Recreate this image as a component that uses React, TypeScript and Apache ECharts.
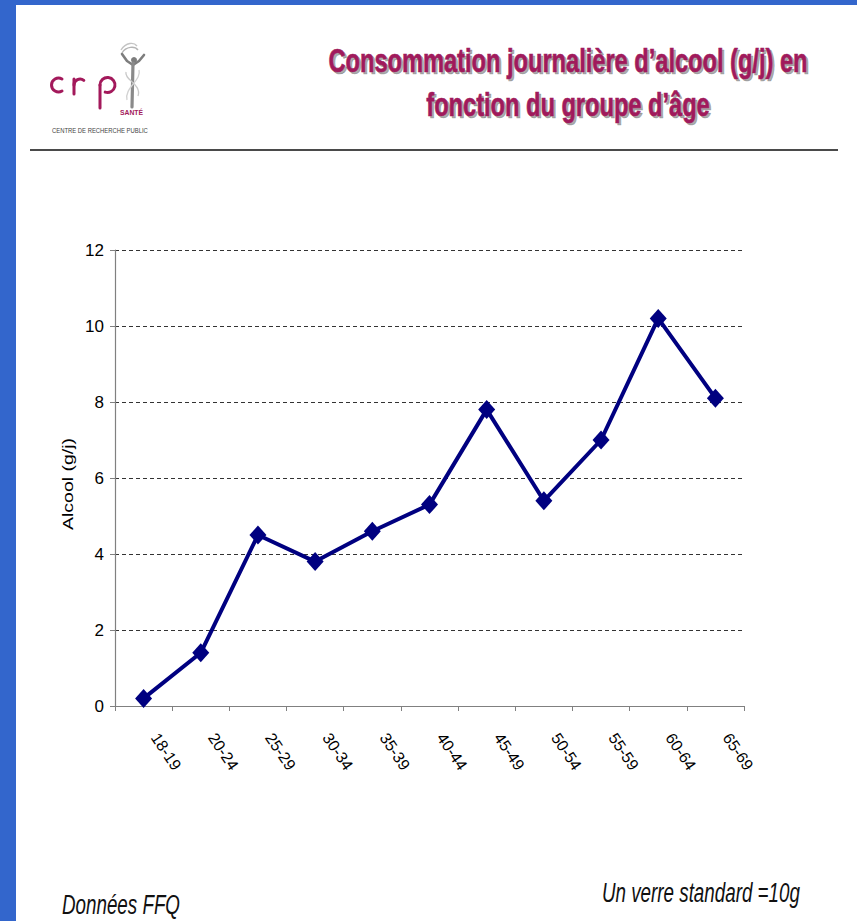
import React, { useEffect, useRef } from 'react';
import * as echarts from 'echarts';

const categories = ['18-19', '20-24', '25-29', '30-34', '35-39', '40-44', '45-49', '50-54', '55-59', '60-64', '65-69'];
const alcoholValues = [0.2, 1.4, 4.5, 3.8, 4.6, 5.3, 7.8, 5.4, 7.0, 10.2, 8.1];
const yMin = 0;
const yMax = 12;
const yStep = 2;
const titleLines = ['Consommation journalière d’alcool (g/j) en', 'fonction du groupe d’âge'];
const yAxisName = 'Alcool (g/j)';
const footerLeft = 'Données FFQ';
const footerRight = 'Un verre standard =10g';
const logoWord = 'SANTÉ';
const logoSub = 'CENTRE DE RECHERCHE PUBLIC';

const FF = '"Liberation Sans", Arial, Helvetica, sans-serif';

function textWidth(text: string, font: string): number {
  const c = document.createElement('canvas').getContext('2d');
  if (!c) return text.length * 10;
  c.font = font;
  return c.measureText(text).width;
}

function fitText(
  text: string,
  x: number,
  y: number,
  size: number,
  width: number,
  opts: { weight?: string; italic?: boolean; fill: string; align?: string; z?: number; rotation?: number; scaleY?: number }
) {
  const font = `${opts.italic ? 'italic ' : ''}${opts.weight || 'normal'} ${size}px ${FF}`;
  const sx = width / textWidth(text, font);
  const align = opts.align || 'left';
  return {
    type: 'text',
    x,
    y,
    rotation: opts.rotation || 0,
    scaleX: sx,
    scaleY: opts.scaleY || 1,
    z: opts.z ?? 10,
    style: {
      text,
      fontSize: size,
      fontFamily: FF,
      fontWeight: opts.weight || 'normal',
      fontStyle: opts.italic ? 'italic' : 'normal',
      fill: opts.fill,
      align,
      textAlign: align,
      verticalAlign: 'middle',
      textVerticalAlign: 'middle',
    },
  };
}

export default function App() {
  const ref = useRef<HTMLDivElement>(null);

  useEffect(() => {
    if (!ref.current) return;
    const chart = echarts.init(ref.current, null, { renderer: 'svg' });
    const magenta = '#A01A5C';
    const logoMag = '#A3195B';

    const titleFont = `bold 31px ${FF}`;
    const tScale = 479 / textWidth(titleLines[0], titleFont);
    const titleEls: any[] = [];
    const titleY = [60, 104];
    titleLines.forEach((line, i) => {
      const base = {
        type: 'text',
        scaleX: tScale,
        scaleY: 1.1,
        style: {
          text: line,
          fontSize: 31,
          fontFamily: FF,
          fontWeight: 'bold',
          align: 'center',
          textAlign: 'center',
          verticalAlign: 'middle',
          textVerticalAlign: 'middle',
          stroke: magenta,
          lineWidth: 0.6,
        },
      };
      titleEls.push({ ...base, x: 570, y: titleY[i] + 2, z: 9, style: { ...base.style, fill: 'rgba(90,90,90,0.5)', stroke: 'rgba(90,90,90,0.5)' } });
      titleEls.push({ ...base, x: 568, y: titleY[i], z: 10, style: { ...base.style, fill: magenta } });
    });

    const ls = { stroke: logoMag, lineWidth: 3, fill: 'none', lineCap: 'round' };
    const logoEls: any[] = [
      // c
      { type: 'arc', shape: { cx: 58.5, cy: 85, r: 7, startAngle: Math.PI / 3, endAngle: (5 * Math.PI) / 3, clockwise: true }, style: ls },
      // r
      { type: 'line', shape: { x1: 74, y1: 79, x2: 74, y2: 94 }, style: ls },
      { type: 'arc', shape: { cx: 80, cy: 85, r: 6, startAngle: Math.PI, endAngle: 1.72 * Math.PI, clockwise: true }, style: ls },
      // p
      { type: 'line', shape: { x1: 100, y1: 85, x2: 100, y2: 108 }, style: ls },
      { type: 'arc', shape: { cx: 107.5, cy: 85, r: 7.5, startAngle: Math.PI, endAngle: 2.6 * Math.PI, clockwise: true }, style: ls },
      // figure
      { type: 'bezierCurve', shape: { x1: 121, y1: 50, x2: 137, y2: 46, cpx1: 126, cpy1: 42, cpx2: 134, cpy2: 42 }, style: { stroke: '#c4c4c4', lineWidth: 1.4, fill: 'none' } },
      { type: 'bezierCurve', shape: { x1: 122, y1: 53, x2: 138, y2: 50, cpx1: 126, cpy1: 46, cpx2: 135, cpy2: 46 }, style: { stroke: '#b4b4b4', lineWidth: 1.4, fill: 'none' } },
      { type: 'polyline', shape: { points: [[122, 54], [127, 61], [133, 65], [139, 61], [144, 55]] }, style: { stroke: '#7d7d7d', lineWidth: 2.6, fill: 'none', lineJoin: 'round', lineCap: 'round' } },
      { type: 'circle', shape: { cx: 134, cy: 60, r: 3 }, style: { fill: '#7d7d7d' } },
      { type: 'line', shape: { x1: 133, y1: 63, x2: 132, y2: 107 }, style: { stroke: '#8a8a8a', lineWidth: 3.2, lineCap: 'round' } },
      { type: 'bezierCurve', shape: { x1: 126, y1: 72, x2: 138, y2: 96, cpx1: 124, cpy1: 80, cpx2: 142, cpy2: 84 }, style: { stroke: '#c8c8c8', lineWidth: 1.3, fill: 'none' } },
      { type: 'bezierCurve', shape: { x1: 139, y1: 70, x2: 127, y2: 100, cpx1: 142, cpy1: 80, cpx2: 124, cpy2: 88 }, style: { stroke: '#d2d2d2', lineWidth: 1.3, fill: 'none' } },
      fitText(logoWord, 120, 112.5, 7, 23, { weight: 'bold', fill: logoMag }),
      fitText(logoSub, 52, 130, 8, 96, { fill: '#444' }),
    ];

    const option: any = {
      animation: false,
      backgroundColor: '#ffffff',
      grid: { left: 115, top: 250, right: 113, bottom: 215, containLabel: false },
      xAxis: {
        type: 'category',
        data: categories,
        boundaryGap: true,
        axisLine: { show: true, lineStyle: { color: '#808080', width: 1.2 } },
        axisTick: { show: true, length: 5, interval: 0, lineStyle: { color: '#808080', width: 1 } },
        axisLabel: {
          interval: 0,
          rotate: -56,
          margin: 12,
          padding: [0, 0, 0, 20],
          fontSize: 16,
          fontFamily: FF,
          color: '#000',
        },
        splitLine: { show: false },
      },
      yAxis: {
        type: 'value',
        min: yMin,
        max: yMax,
        interval: yStep,
        axisLine: { show: true, lineStyle: { color: '#808080', width: 1.2 } },
        axisTick: { show: true, length: 5, lineStyle: { color: '#808080', width: 1 } },
        axisLabel: { fontSize: 17, fontFamily: FF, color: '#000', margin: 11 },
        splitLine: { show: true, lineStyle: { color: '#333', width: 1, type: [4, 3] } },
      },
      series: [
        {
          type: 'line',
          data: alcoholValues,
          symbol: 'diamond',
          symbolSize: [17, 19],
          lineStyle: { color: '#000080', width: 4 },
          itemStyle: { color: '#000080' },
          z: 5,
        },
      ],
      graphic: {
        elements: [
          { type: 'rect', shape: { x: 0, y: 0, width: 16, height: 921 }, style: { fill: '#3366CC' }, z: 20 },
          { type: 'rect', shape: { x: 0, y: 0, width: 857, height: 5 }, style: { fill: '#3366CC' }, z: 20 },
          { type: 'line', shape: { x1: 30, y1: 150, x2: 838, y2: 150 }, style: { stroke: '#4a4a4a', lineWidth: 2 } },
          ...titleEls,
          ...logoEls,
          fitText(yAxisName, 68, 484, 15, 92, { fill: '#000', align: 'center', rotation: Math.PI / 2 }),
          fitText(footerLeft, 62, 905, 27, 118, { italic: true, fill: '#111' }),
          fitText(footerRight, 602, 893, 27, 198, { italic: true, fill: '#111' }),
        ],
      },
    };
    chart.setOption(option);
    return () => chart.dispose();
  }, []);

  return (
    <div
      ref={ref}
      style={{ position: 'absolute', left: 0, top: 0, width: 857, height: 921, background: '#fff' }}
    />
  );
}
